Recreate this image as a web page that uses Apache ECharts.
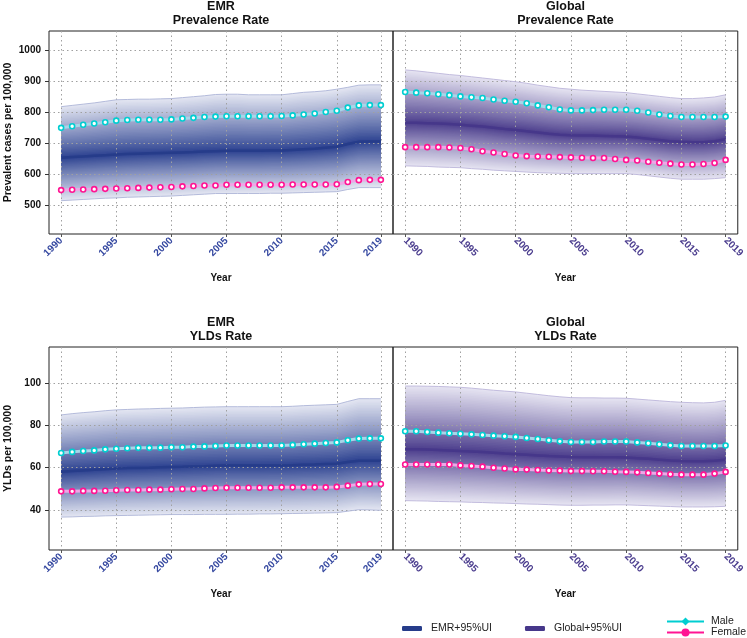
<!DOCTYPE html>
<html>
<head>
<meta charset="utf-8">
<script src="https://cdn.jsdelivr.net/npm/echarts@6/dist/echarts.min.js"></script>
<style>html,body{margin:0;padding:0;background:#fff}#c{width:747px;height:638px}</style>
</head>
<body>
<div id="c"></div>
<script>
// ---------------- data ----------------
const years = [1990,1991,1992,1993,1994,1995,1996,1997,1998,1999,2000,2001,2002,2003,2004,2005,2006,2007,2008,2009,2010,2011,2012,2013,2014,2015,2016,2017,2018,2019];
const xTickYears = [1990,1995,2000,2005,2010,2015,2019];
const prevTicks = [500,600,700,800,900,1000];
const yldTicks = [40,60,80,100];

// EMR prevalence rate
const emrPrevBoth  = [654,656,658,660,662,664,666,667,668,669,670,671,672,674,675,676,676,676,676,677,677,679,681,683,686,689,698,705,706,706];
const emrPrevUpper = [818,822,826,830,835,840,841,842,842,843,844,847,850,853,857,858,858,856,856,856,856,860,864,866,869,874,880,887,888,888];
const emrPrevLower = [516,518,520,522,524,525,527,528,529,530,531,533,535,537,539,539,539,539,539,540,540,541,542,543,544,545,552,558,558,558];
const emrPrevMale  = [750,755,760,764,768,773,775,776,776,776,777,780,782,785,786,787,787,787,787,787,788,790,793,796,801,805,815,822,823,823];
const emrPrevFemale= [550,551,552,553,554,555,556,557,558,559,560,562,563,565,565,567,567,567,567,567,567,568,568,568,568,569,576,582,583,583];

// Global prevalence rate
const gloPrevBoth  = [766,766,765,764,762,760,757,754,750,746,743,739,735,731,728,726,725,725,724,723,722,719,715,711,707,705,704,704,707,713];
const gloPrevUpper = [936,933,929,925,921,918,914,910,906,902,898,893,887,882,877,874,871,869,867,865,863,859,855,851,847,844,844,846,849,856];
const gloPrevLower = [628,627,626,624,623,622,619,617,614,612,610,608,606,605,604,603,603,603,603,603,603,600,596,592,588,585,585,585,587,590];
const gloPrevMale  = [865,863,861,858,855,851,848,846,841,837,834,829,822,816,809,806,806,807,808,808,808,805,799,793,788,785,785,785,785,786];
const gloPrevFemale= [688,688,688,688,687,685,681,675,671,666,661,659,658,657,656,655,654,653,653,650,647,645,641,638,635,632,632,634,637,647];

// EMR YLDs rate
const emrYldBoth  = [58.1,58.4,58.7,59.0,59.3,59.6,59.8,59.9,60.0,60.2,60.3,60.4,60.6,60.7,60.9,61.0,61.0,61.0,61.0,61.1,61.1,61.2,61.4,61.5,61.7,61.9,62.7,63.3,63.3,63.3];
const emrYldUpper = [85.0,85.6,86.1,86.5,87.0,87.4,87.6,87.8,87.9,88.1,88.2,88.3,88.5,88.7,88.8,88.9,88.9,88.9,88.9,88.9,88.9,89.1,89.4,89.6,89.8,90.0,91.4,92.7,92.7,92.7];
const emrYldLower = [36.6,36.7,36.9,37.0,37.2,37.3,37.4,37.5,37.6,37.7,37.8,37.8,37.8,37.9,37.9,37.9,38.0,38.0,38.1,38.1,38.2,38.3,38.4,38.5,38.6,38.7,39.4,40.1,40.0,39.8];
const emrYldMale  = [67.0,67.5,67.9,68.2,68.7,69.0,69.2,69.4,69.4,69.5,69.7,69.7,70.0,70.1,70.3,70.5,70.5,70.5,70.5,70.5,70.5,70.8,71.1,71.4,71.7,72.0,73.0,73.8,73.9,73.9];
const emrYldFemale= [48.8,48.8,49.0,49.0,49.1,49.3,49.4,49.4,49.6,49.6,49.8,49.9,49.9,50.2,50.4,50.5,50.5,50.5,50.5,50.5,50.7,50.7,50.7,50.7,50.7,50.9,51.5,52.1,52.3,52.3];

// Global YLDs rate
const gloYldBoth  = [68.7,68.7,68.6,68.4,68.2,67.9,67.7,67.4,67.1,66.7,66.4,66.1,65.8,65.5,65.3,65.1,65.0,65.0,64.9,64.9,64.8,64.5,64.2,63.8,63.4,63.2,63.1,63.1,63.3,63.8];
const gloYldUpper = [98.7,98.7,98.6,98.5,98.3,98.1,97.7,97.2,96.7,96.3,95.9,95.3,94.7,94.1,93.6,93.2,93.1,93.1,93.0,93.0,92.9,92.5,92.1,91.7,91.3,91.0,90.8,90.7,91.0,91.9];
const gloYldLower = [44.4,44.3,44.2,44.0,43.9,43.8,43.6,43.5,43.3,43.2,43.0,42.8,42.7,42.5,42.3,42.2,42.2,42.3,42.3,42.4,42.4,42.2,42.0,41.8,41.6,41.4,41.4,41.4,41.5,41.7];
const gloYldMale  = [77.3,77.3,76.9,76.6,76.3,76.1,75.8,75.5,75.2,74.9,74.6,74.1,73.6,73.0,72.5,72.2,72.2,72.2,72.4,72.4,72.4,72.0,71.6,71.1,70.6,70.3,70.3,70.3,70.3,70.5];
const gloYldFemale= [61.5,61.5,61.5,61.5,61.5,61.1,60.8,60.5,60.0,59.6,59.2,59.1,58.9,58.7,58.6,58.4,58.4,58.3,58.3,58.1,58.0,57.8,57.5,57.2,56.9,56.7,56.7,56.7,57.2,58.0];

const panelTitles = ['EMR\nPrevalence Rate','Global\nPrevalence Rate','EMR\nYLDs Rate','Global\nYLDs Rate'];
const yNames = ['Prevalent cases per 100,000','YLDs per 100,000'];

// ---------------- styling / layout ----------------
const FONT = 'Liberation Sans, Arial, sans-serif';
const grids = [
  {left:49, top:31, width:344, height:203},
  {left:393, top:31, width:345, height:203},
  {left:49, top:347, width:344, height:203},
  {left:393, top:347, width:345, height:203}
];
const EMR = {dark:[40,62,142], light:[226,229,241], line:'#263c8a', edge:'#b4bbdb', name:'EMR+95%UI'};
const GLO = {dark:[72,58,138], light:[229,227,241], line:'#46378a', edge:'#c2bcde', name:'Global+95%UI'};
const panels = [
  {pal:EMR, both:emrPrevBoth, up:emrPrevUpper, lo:emrPrevLower, m:emrPrevMale, f:emrPrevFemale, yr:[409,1061], ticks:prevTicks},
  {pal:GLO, both:gloPrevBoth, up:gloPrevUpper, lo:gloPrevLower, m:gloPrevMale, f:gloPrevFemale, yr:[409,1061], ticks:prevTicks},
  {pal:EMR, both:emrYldBoth, up:emrYldUpper, lo:emrYldLower, m:emrYldMale, f:emrYldFemale, yr:[21,117.2], ticks:yldTicks},
  {pal:GLO, both:gloYldBoth, up:gloYldUpper, lo:gloYldLower, m:gloYldMale, f:gloYldFemale, yr:[21,117.2], ticks:yldTicks}
];

function mix(a, b, t) {
  return 'rgb(' + a.map((v,i)=>Math.round(v + (b[i]-v)*t)).join(',') + ')';
}
// [value, year] so the value dimension comes first (it is the stacked one)
const vy = arr => years.map((y,i)=>[arr[i], y]);
const ENC = {x:1, y:0};

const N = 40;
const series = [];
panels.forEach((p, pi) => {
  // nested bands drawn from outermost (light) to innermost (dark)
  for (let k = N; k >= 1; k--) {
    const s = k / N;
    const c = mix(p.pal.dark, p.pal.light, Math.pow(s, 0.9));
    const stack = 'band' + pi + '_' + k;
    const common = {type:'line', xAxisIndex:pi, yAxisIndex:pi, stack:stack, symbol:'none', silent:true,
                    z:2, animation:false, encode:ENC, name:'_b'+pi};
    const lo = years.map((y,i)=>p.both[i] - s*(p.both[i]-p.lo[i]));
    const hi = years.map((y,i)=>p.both[i] + s*(p.up[i]-p.both[i]));
    series.push(Object.assign({}, common, {data:vy(lo), lineStyle:{width:1, opacity:0}}));
    series.push(Object.assign({}, common, {data:vy(years.map((y,i)=>hi[i]-lo[i])),
      lineStyle:{width:1, opacity:0}, areaStyle:{color:c, opacity:1}}));
  }
  [p.up, p.lo].forEach(arr => series.push({type:'line', xAxisIndex:pi, yAxisIndex:pi, name:'_e'+pi, data:vy(arr), encode:ENC,
    symbol:'none', silent:true, z:4, animation:false, lineStyle:{width:1, color:p.pal.edge}}));
  series.push({type:'line', xAxisIndex:pi, yAxisIndex:pi, name:p.pal.name, data:vy(p.both), encode:ENC, symbol:'none',
    z:5, animation:false, color:p.pal.line, lineStyle:{width:2.5, color:p.pal.line}});
  series.push({type:'line', xAxisIndex:pi, yAxisIndex:pi, name:'_m'+pi, data:vy(p.m), encode:ENC, symbol:'circle', symbolSize:5,
    z:6, animation:false, lineStyle:{width:3, color:'#a6d6e8'},
    itemStyle:{color:'#ffffff', borderColor:'#00ced1', borderWidth:1.6}});
  series.push({type:'line', xAxisIndex:pi, yAxisIndex:pi, name:'_f'+pi, data:vy(p.f), encode:ENC, symbol:'circle', symbolSize:5,
    z:6, animation:false, lineStyle:{width:3, color:'#eea6e6'},
    itemStyle:{color:'#ffffff', borderColor:'#ff1493', borderWidth:1.6}});
});
// legend-only series
series.push({type:'line', xAxisIndex:0, yAxisIndex:0, name:'Male', data:[], symbol:'diamond', color:'#00ced1',
  lineStyle:{width:3, color:'#00ced1'}, itemStyle:{color:'#00ced1'}});
series.push({type:'line', xAxisIndex:0, yAxisIndex:0, name:'Female', data:[], symbol:'circle', color:'#ff1493',
  lineStyle:{width:3, color:'#ff1493'}, itemStyle:{color:'#ff1493'}});

const plain = v => String(v);
const xAxes = grids.map((g, i) => {
  const right = (i % 2 === 1);
  return {
    type:'value', gridIndex:i, min:1988.9, max:2020.1, z:3,
    name:'Year', nameLocation:'middle', nameGap:39,
    nameTextStyle:{fontFamily:FONT, fontWeight:'bold', fontSize:10, color:'#111'},
    axisLine:{show:false},
    axisTick:{show:true, length:3, customValues:xTickYears, lineStyle:{color:'#555'}},
    axisLabel:{customValues:xTickYears, formatter:plain, rotate: right ? -45 : 45, margin:5,
      fontFamily:FONT, fontWeight:'bold', fontSize:10, color: right ? '#4b3d8e' : '#3548a0'},
    splitLine:{show:true, lineStyle:{type:[1.5,3], color:'#a0a0a0', width:1}}
  };
});
const yAxes = grids.map((g, i) => {
  const right = (i % 2 === 1);
  const p = panels[i];
  return {
    type:'value', gridIndex:i, min:p.yr[0], max:p.yr[1], z:3,
    name: right ? '' : yNames[i < 2 ? 0 : 1], nameLocation:'middle', nameGap:35,
    nameTextStyle:{fontFamily:FONT, fontWeight:'bold', fontSize:10.5, color:'#111'},
    axisLine:{show:false},
    axisTick:{show:!right, length:4, customValues:p.ticks, lineStyle:{color:'#333'}},
    axisLabel:{show:!right, customValues:p.ticks, formatter:plain, margin:8, fontFamily:FONT, fontWeight:'bold', fontSize:10, color:'#111'},
    splitLine:{show:true, lineStyle:{type:[1.5,3], color:'#a0a0a0', width:1}}
  };
});

const titles = grids.map((g, i) => ({
  text: panelTitles[i], left: g.left + g.width/2, top: i < 2 ? 0 : 316, textAlign:'center', padding:0,
  textStyle:{fontFamily:FONT, fontWeight:'bold', fontSize:12.5, lineHeight:13.5, color:'#111'}
}));

const legText = {fontFamily:FONT, fontSize:10.5, color:'#222'};
const option = {
  backgroundColor:'#fff',
  animation:false,
  title: titles,
  grid: grids.map(g => Object.assign({show:true, borderColor:'#222', borderWidth:1, backgroundColor:'transparent'}, g)),
  xAxis: xAxes,
  yAxis: yAxes,
  legend: [
    {data:[{name:'EMR+95%UI', icon:'roundRect'}, {name:'Global+95%UI', icon:'roundRect'}],
     left:402, top:623, padding:0, itemWidth:20, itemHeight:5, itemGap:33, selectedMode:false,
     textStyle:Object.assign({padding:[0,0,0,4]}, legText)},
    {data:['Male'], left:666, top:616, padding:0, itemWidth:37, itemHeight:10, selectedMode:false,
     textStyle:Object.assign({padding:[0,0,0,2]}, legText)},
    {data:['Female'], left:666, top:627, padding:0, itemWidth:37, itemHeight:10, selectedMode:false,
     textStyle:Object.assign({padding:[0,0,0,2]}, legText)}
  ],
  series: series
};
const chart = echarts.init(document.getElementById('c'), null, {renderer:'canvas'});
chart.setOption(option);
</script>
</body>
</html>
